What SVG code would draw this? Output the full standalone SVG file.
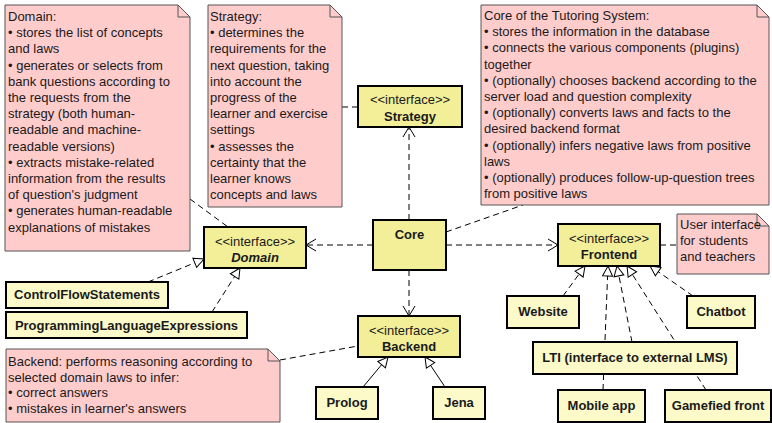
<svg xmlns="http://www.w3.org/2000/svg" width="772" height="423" viewBox="0 0 772 423">
<style>
text{font-family:"Liberation Sans",Arial,sans-serif;font-size:13px;fill:#1a1a1a}
.b{font-weight:bold}
.c{text-anchor:middle}
.note path.body{fill:#ffcccc;stroke:#555;stroke-width:1}
.note path.fold{fill:none;stroke:#555;stroke-width:1}
.intf rect{fill:#f3ef99;stroke:#000;stroke-width:2}
.impl rect{fill:#fcfac9;stroke:#000;stroke-width:2}
.dash{fill:none;stroke:#000;stroke-width:1;stroke-dasharray:6 4}
.solid{fill:none;stroke:#000;stroke-width:1}
</style>
<defs>
<marker id="open" markerWidth="12" markerHeight="14" refX="10" refY="7" orient="auto" markerUnits="userSpaceOnUse"><path d="M0,1 L10,7 L0,13" fill="none" stroke="#000" stroke-width="1"/></marker>
<marker id="tri" markerWidth="13" markerHeight="13" refX="11" refY="6" orient="auto" markerUnits="userSpaceOnUse"><path d="M1,1 L11,6 L1,11 Z" fill="#fff" stroke="#000" stroke-width="1"/></marker>
</defs>

<g id="connectors">
<line class="dash" x1="190" y1="199" x2="228" y2="227"/>
<line class="dash" x1="342" y1="107" x2="358" y2="107"/>
<line class="dash" x1="446" y1="232" x2="523" y2="205"/>
<line class="dash" x1="660" y1="245" x2="677" y2="245"/>
<line class="dash" x1="280" y1="360" x2="358" y2="346"/>
<line class="dash" x1="409" y1="220" x2="409" y2="127" marker-end="url(#open)"/>
<line class="dash" x1="373" y1="245" x2="306" y2="245" marker-end="url(#open)"/>
<line class="dash" x1="446" y1="245" x2="558" y2="245" marker-end="url(#open)"/>
<line class="dash" x1="409" y1="270" x2="409" y2="316" marker-end="url(#open)"/>
<line class="dash" x1="148" y1="282" x2="204" y2="259" marker-end="url(#tri)"/>
<line class="dash" x1="212" y1="312" x2="240" y2="268" marker-end="url(#tri)"/>
<line class="dash" x1="563" y1="296" x2="585" y2="266" marker-end="url(#tri)"/>
<line class="dash" x1="603" y1="390" x2="608" y2="266" marker-end="url(#tri)"/>
<line class="dash" x1="632" y1="342" x2="617" y2="266" marker-end="url(#tri)"/>
<line class="dash" x1="706" y1="390" x2="627" y2="266" marker-end="url(#tri)"/>
<line class="dash" x1="693" y1="296" x2="650" y2="266" marker-end="url(#tri)"/>
<line class="solid" x1="363" y1="387" x2="388" y2="357" marker-end="url(#tri)"/>
<line class="solid" x1="445" y1="387" x2="425" y2="357" marker-end="url(#tri)"/>
</g>

<g id="note-domain" class="note">
<path class="body" d="M5,5 H178 L190,17 V251 H5 Z"/>
<path class="fold" d="M178,5 V17 H190"/>
<text x="8" y="21"><tspan x="8">Domain:</tspan><tspan x="8" dy="16.2">• stores the list of concepts</tspan><tspan x="8" dy="16.2">and laws</tspan><tspan x="8" dy="16.2">• generates or selects from</tspan><tspan x="8" dy="16.2">bank questions according to</tspan><tspan x="8" dy="16.2">the requests from the</tspan><tspan x="8" dy="16.2">strategy (both human-</tspan><tspan x="8" dy="16.2">readable and machine-</tspan><tspan x="8" dy="16.2">readable versions)</tspan><tspan x="8" dy="16.2">• extracts mistake-related</tspan><tspan x="8" dy="16.2">information from the results</tspan><tspan x="8" dy="16.2">of question's judgment</tspan><tspan x="8" dy="16.2">• generates human-readable</tspan><tspan x="8" dy="16.2">explanations of mistakes</tspan></text>
</g>

<g id="note-strategy" class="note">
<path class="body" d="M208,5 H330 L342,17 V207 H208 Z"/>
<path class="fold" d="M330,5 V17 H342"/>
<text x="210" y="21"><tspan x="210">Strategy:</tspan><tspan x="210" dy="16.2">• determines the</tspan><tspan x="210" dy="16.2">requirements for the</tspan><tspan x="210" dy="16.2">next question, taking</tspan><tspan x="210" dy="16.2">into account the</tspan><tspan x="210" dy="16.2">progress of the</tspan><tspan x="210" dy="16.2">learner and exercise</tspan><tspan x="210" dy="16.2">settings</tspan><tspan x="210" dy="16.2">• assesses the</tspan><tspan x="210" dy="16.2">certainty that the</tspan><tspan x="210" dy="16.2">learner knows</tspan><tspan x="210" dy="16.2">concepts and laws</tspan></text>
</g>

<g id="note-core" class="note">
<path class="body" d="M481,5 H757 L769,17 V205 H481 Z"/>
<path class="fold" d="M757,5 V17 H769"/>
<text x="484" y="20"><tspan x="484">Core of the Tutoring System:</tspan><tspan x="484" dy="16.2">• stores the information in the database</tspan><tspan x="484" dy="16.2">• connects the various components (plugins)</tspan><tspan x="484" dy="16.2">together</tspan><tspan x="484" dy="16.2">• (optionally) chooses backend according to the</tspan><tspan x="484" dy="16.2">server load and question complexity</tspan><tspan x="484" dy="16.2">• (optionally) converts laws and facts to the</tspan><tspan x="484" dy="16.2">desired backend format</tspan><tspan x="484" dy="16.2">• (optionally) infers negative laws from positive</tspan><tspan x="484" dy="16.2">laws</tspan><tspan x="484" dy="16.2">• (optionally) produces follow-up-question trees</tspan><tspan x="484" dy="16.2">from positive laws</tspan></text>
</g>

<g id="note-frontend" class="note">
<path class="body" d="M677,214 H757 L769,226 V274 H677 Z"/>
<path class="fold" d="M757,214 V226 H769"/>
<text x="680" y="229"><tspan x="680">User interface</tspan><tspan x="680" dy="16.2">for students</tspan><tspan x="680" dy="16.2">and teachers</tspan></text>
</g>

<g id="note-backend" class="note">
<path class="body" d="M6,349 H268 L280,361 V422 H6 Z"/>
<path class="fold" d="M268,349 V361 H280"/>
<text x="8" y="366"><tspan x="8">Backend: performs reasoning according to</tspan><tspan x="8" dy="15.7">selected domain laws to infer:</tspan><tspan x="8" dy="15.7">• correct answers</tspan><tspan x="8" dy="15.7">• mistakes in learner's answers</tspan></text>
</g>

<g id="strategy" class="intf">
<rect x="358" y="86" width="104" height="41"/>
<text class="c" x="410" y="104">&lt;&lt;interface&gt;&gt;</text>
<text class="c b" x="410" y="121">Strategy</text>
</g>

<g id="domain" class="intf">
<rect x="204" y="227" width="102" height="41"/>
<text class="c" x="255" y="246">&lt;&lt;interface&gt;&gt;</text>
<text class="c b" x="255" y="262" font-style="italic">Domain</text>
</g>

<g id="core" class="intf">
<rect x="373" y="220" width="73" height="50"/>
<text class="c b" x="409.5" y="239">Core</text>
</g>

<g id="frontend" class="intf">
<rect x="558" y="224" width="102" height="42"/>
<text class="c" x="609" y="243">&lt;&lt;interface&gt;&gt;</text>
<text class="c b" x="609" y="259">Frontend</text>
</g>

<g id="backend" class="intf">
<rect x="358" y="316" width="102" height="41"/>
<text class="c" x="409" y="335">&lt;&lt;interface&gt;&gt;</text>
<text class="c b" x="409" y="351">Backend</text>
</g>

<g id="controlflow" class="impl">
<rect x="6" y="282" width="162" height="26"/>
<text class="c b" x="87" y="299">ControlFlowStatements</text>
</g>

<g id="ple" class="impl">
<rect x="6" y="312" width="241" height="26"/>
<text class="c b" x="126.5" y="330">ProgrammingLanguageExpressions</text>
</g>

<g id="website" class="impl">
<rect x="507" y="296" width="72" height="32"/>
<text class="c b" x="543" y="316">Website</text>
</g>

<g id="chatbot" class="impl">
<rect x="687" y="296" width="68" height="32"/>
<text class="c b" x="721" y="316">Chatbot</text>
</g>

<g id="lti" class="impl">
<rect x="533" y="342" width="204" height="32"/>
<text class="c b" x="635" y="362">LTI (interface to external LMS)</text>
</g>

<g id="mobile" class="impl">
<rect x="558" y="390" width="87" height="32"/>
<text class="c b" x="601.5" y="410">Mobile app</text>
</g>

<g id="gamefied" class="impl">
<rect x="665" y="390" width="106" height="32"/>
<text class="c b" x="718" y="410">Gamefied front</text>
</g>

<g id="prolog" class="impl">
<rect x="316" y="387" width="62" height="32"/>
<text class="c b" x="347" y="407">Prolog</text>
</g>

<g id="jena" class="impl">
<rect x="433" y="387" width="52" height="32"/>
<text class="c b" x="459" y="407">Jena</text>
</g>
</svg>
